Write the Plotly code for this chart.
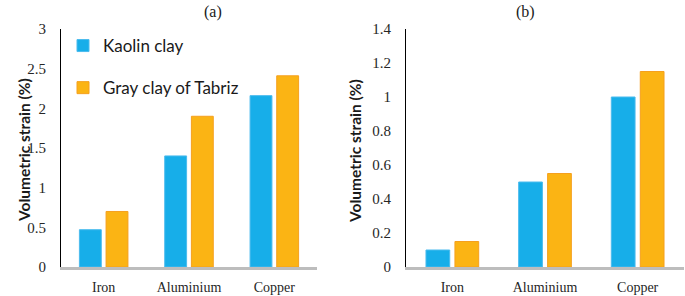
import plotly.graph_objects as go

categories = ["Iron", "Aluminium", "Copper"]
kaolin_a = [0.47, 1.40, 2.16]
tabriz_a = [0.70, 1.90, 2.41]
kaolin_b = [0.10, 0.50, 1.00]
tabriz_b = [0.15, 0.55, 1.15]
series_names = ["Kaolin clay", "Gray clay of Tabriz"]
yticks_a = [0, 0.5, 1, 1.5, 2, 2.5, 3]
yticks_b = [0, 0.2, 0.4, 0.6, 0.8, 1, 1.2, 1.4]

BLUE = "#17aee9"
ORANGE = "#fbb414"
BLUE_EDGE = "#4bbbee"
ORANGE_EDGE = "#f5a01e"

fig = go.Figure()
fig.add_trace(go.Bar(x=categories, y=kaolin_a, name=series_names[0], legendgroup="k",
                     marker=dict(color=BLUE, line=dict(color=BLUE_EDGE, width=1)),
                     xaxis="x", yaxis="y"))
fig.add_trace(go.Bar(x=categories, y=tabriz_a, name=series_names[1], legendgroup="t",
                     marker=dict(color=ORANGE, line=dict(color=ORANGE_EDGE, width=1)),
                     xaxis="x", yaxis="y"))
fig.add_trace(go.Bar(x=categories, y=kaolin_b, name=series_names[0], legendgroup="k", showlegend=False,
                     marker=dict(color=BLUE, line=dict(color=BLUE_EDGE, width=1)),
                     xaxis="x2", yaxis="y2"))
fig.add_trace(go.Bar(x=categories, y=tabriz_b, name=series_names[1], legendgroup="t", showlegend=False,
                     marker=dict(color=ORANGE, line=dict(color=ORANGE_EDGE, width=1)),
                     xaxis="x2", yaxis="y2"))

W, H = 685, 296
xtickfont = dict(family="Liberation Serif, Times New Roman, serif", size=14, color="#262626")
ytickfont = dict(family="Liberation Serif, Times New Roman, serif", size=15, color="#262626")

def xaxis(domain, anchor):
    return dict(domain=domain, anchor=anchor, showline=True, linecolor="#bdbdbd", linewidth=2.5,
                ticks="", tickfont=xtickfont, ticklabelstandoff=5, showgrid=False, zeroline=False,
                automargin=False)

def yaxis(domain, anchor, rng, vals):
    return dict(domain=domain, anchor=anchor, range=rng, tickvals=vals,
                ticktext=[f"{v:g}" for v in vals], showline=True, linecolor="#000000",
                linewidth=1, ticks="", tickfont=ytickfont, ticklabelstandoff=11,
                showgrid=False, zeroline=False, automargin=False)

ydom = [1 - 267 / H, 1 - 29 / H]
fig.update_layout(
    template="none",
    width=W, height=H,
    margin=dict(l=0, r=0, t=0, b=0, pad=0),
    paper_bgcolor="white", plot_bgcolor="white",
    barmode="group", bargap=0.375, bargroupgap=0.18,
    xaxis=xaxis([61 / W, 317 / W], "y"),
    yaxis=yaxis(ydom, "x", [0, 3], yticks_a),
    xaxis2=xaxis([406 / W, 684 / W], "y2"),
    yaxis2=yaxis(ydom, "x2", [0, 1.4], yticks_b),
    showlegend=True,
    legend=dict(x=63 / W, y=1 - 28 / H, xanchor="left", yanchor="top",
                bgcolor="rgba(0,0,0,0)", tracegroupgap=17, traceorder="grouped",
                font=dict(family="Lato", size=17, color="#1a1a1a")),
    annotations=[
        dict(text="(a)", x=202 / W, y=1 - 12 / H, xref="paper", yref="paper", yanchor="middle",
             showarrow=False, font=dict(family="Liberation Serif", size=16, color="#1a1a1a")),
        dict(text="(b)", x=537 / W, y=1 - 12 / H, xref="paper", yref="paper", yanchor="middle",
             showarrow=False, font=dict(family="Liberation Serif", size=16, color="#1a1a1a")),
        dict(text="<b>Volumetric strain (%)</b>", x=13 / W, y=1 - 150 / H, xref="paper", yref="paper",
             textangle=-90, showarrow=False, font=dict(family="Lato", size=15.5, color="#1a1a1a")),
        dict(text="<b>Volumetric strain (%)</b>", x=355 / W, y=1 - 151 / H, xref="paper", yref="paper",
             textangle=-90, showarrow=False, font=dict(family="Lato", size=15.5, color="#1a1a1a")),
    ],
)

fig.write_html("out.html", config={"displayModeBar": False},
               post_script="document.body.style.margin='0';document.body.style.padding='0';")
